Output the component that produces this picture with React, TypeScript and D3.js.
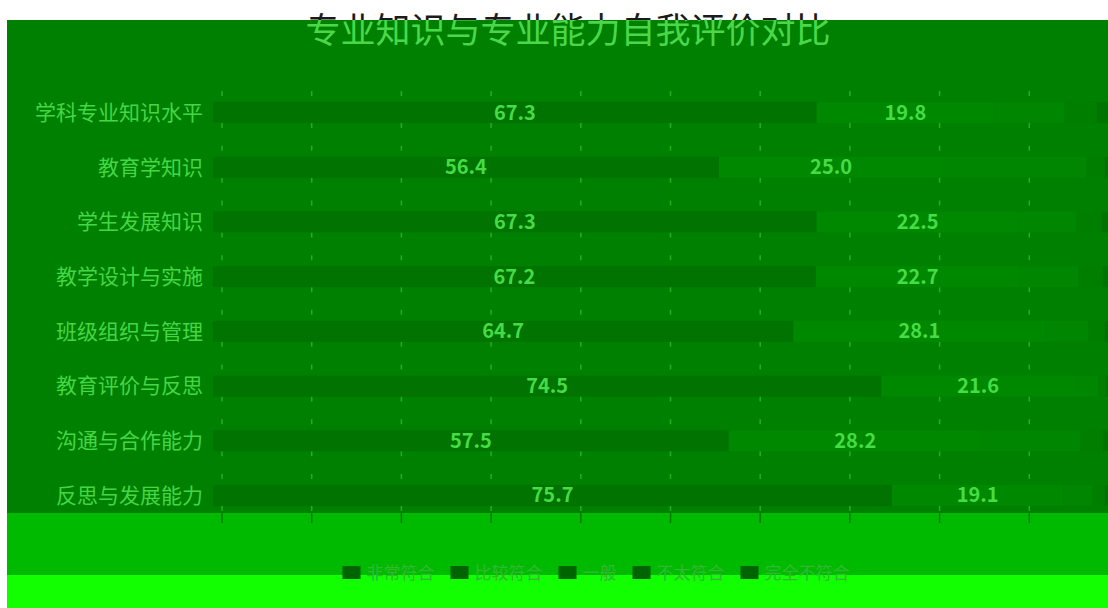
import React from "react";
import * as d3 from "d3";

const title = "专业知识与专业能力自我评价对比";
const categories = [
  "学科专业知识水平",
  "教育学知识",
  "学生发展知识",
  "教学设计与实施",
  "班级组织与管理",
  "教育评价与反思",
  "沟通与合作能力",
  "反思与发展能力",
];
const seriesNames = ["非常符合", "比较符合", "一般", "不太符合", "完全不符合"];
const s1 = [67.3, 56.4, 67.3, 67.2, 64.7, 74.5, 57.5, 75.7];
const s2 = [19.8, 25.0, 22.5, 22.7, 28.1, 21.6, 28.2, 19.1];
const s3 = [7.8, 16.0, 6.5, 6.6, 4.8, 2.6, 11.0, 3.3];
const s4 = [3.6, 2.0, 2.8, 2.7, 1.8, 0.9, 2.5, 1.3];
const s5 = [1.5, 0.6, 0.9, 0.8, 0.6, 0.4, 0.8, 0.6];
const xTicks = [0, 10, 20, 30, 40, 50, 60, 70, 80, 90, 100];
const seriesColors = ["#007300", "#008800", "#008600", "#007e00", "#007400"];

const W = 1108;
const H = 608;
const FONT = "'Noto Sans CJK SC', 'Noto Sans', sans-serif";

export default function App() {
  const seriesValues = [s1, s2, s3, s4, s5];
  const rows = categories.map((c, i) => {
    const o: any = { cat: c };
    seriesNames.forEach((k, j) => (o[k] = seriesValues[j][i]));
    return o;
  });
  const stacked = d3.stack().keys(seriesNames)(rows);

  const x = d3.scaleLinear().domain([0, 100]).range([213, 1110]);
  const y = d3
    .scaleBand()
    .domain(categories)
    .range([85.6, 522.4])
    .paddingInner(0.616)
    .paddingOuter(0.3);
  const bw = y.bandwidth();

  const plotTop = 20;
  const plotBottom = 513;
  const axisShift = 9;

  // legend layout
  const legFont = 17;
  const sw = 18;
  const legItems = seriesNames.map((n) => ({ n, w: sw + 6 + n.length * legFont }));
  const legTotal = d3.sum(legItems, (d) => d.w) + (legItems.length - 1) * 16;
  let cx = 596 - legTotal / 2;
  const legPos = legItems.map((d) => {
    const p = cx;
    cx += d.w + 16;
    return p;
  });

  return (
    <svg
      width={W}
      height={H}
      style={{ position: "absolute", left: 0, top: 0, display: "block" }}
      fontFamily={FONT}
    >
      <defs>
        <clipPath id="clipTop">
          <rect x={0} y={0} width={W} height={plotTop} />
        </clipPath>
        <clipPath id="clipBottom">
          <rect x={0} y={plotTop} width={W} height={H} />
        </clipPath>
      </defs>
      <rect x={0} y={0} width={W} height={H} fill="#ffffff" />
      <rect x={7} y={plotTop} width={W - 7} height={plotBottom - plotTop} fill="#008000" />
      <rect x={7} y={plotBottom} width={W - 7} height={575 - plotBottom} fill="#00ba00" />
      <rect x={7} y={575} width={W - 7} height={H - 575} fill="#11ff00" />

      {/* title */}
      <g clipPath="url(#clipTop)">
        <text x={568} y={43} textAnchor="middle" fontSize={35} fill="#1b1b1b">
          {title}
        </text>
      </g>
      <g clipPath="url(#clipBottom)">
        <text x={568} y={43} textAnchor="middle" fontSize={35} fill="#4ad84a">
          {title}
        </text>
      </g>

      {/* grid marks */}
      {xTicks.map((t) => (
        <line
          key={"g" + t}
          x1={x(t) + axisShift}
          x2={x(t) + axisShift}
          y1={(y(categories[0]) as number) - 18}
          y2={plotBottom}
          stroke="#3fd63f"
          strokeOpacity={0.55}
          strokeWidth={1.5}
          strokeDasharray={`5 ${bw + 6} 5 ${y.step() - bw - 16}`}
          strokeDashoffset={-7}
        />
      ))}

      {/* bars */}
      {stacked.map((layer, j) => (
        <g key={layer.key} fill={seriesColors[j]}>
          {layer.map((d, i) => (
            <rect
              key={i}
              x={x(d[0])}
              y={y(categories[i])}
              width={Math.max(0, x(d[1]) - x(d[0]))}
              height={bw}
            />
          ))}
        </g>
      ))}

      {/* value labels for first two series */}
      {stacked.slice(0, 2).map((layer) =>
        layer.map((d, i) => (
          <text
            key={layer.key + i}
            x={(x(d[0]) + x(d[1])) / 2}
            y={(y(categories[i]) as number) + bw / 2}
            dy="0.35em"
            textAnchor="middle"
            fontSize={20}
            fontWeight="bold"
            fill="#45dc45"
          >
            {(d[1] - d[0]).toFixed(1)}
          </text>
        ))
      )}

      {/* category labels */}
      {categories.map((c) => (
        <text
          key={c}
          x={203}
          y={(y(c) as number) + bw / 2}
          dy="0.35em"
          textAnchor="end"
          fontSize={21}
          fill="#45d645"
        >
          {c}
        </text>
      ))}

      {/* x axis ticks */}
      {xTicks.map((t) => (
        <line
          key={"t" + t}
          x1={x(t) + axisShift}
          x2={x(t) + axisShift}
          y1={plotBottom}
          y2={plotBottom + 10}
          stroke="#007a00"
          strokeWidth={1.5}
        />
      ))}

      {/* legend */}
      {legItems.map((d, i) => (
        <g key={d.n} transform={`translate(${legPos[i]},573)`}>
          <rect x={0} y={-7} width={sw} height={13} fill="#006400" />
          <text x={sw + 6} y={0} dy="0.35em" fontSize={legFont} fill="#33b833">
            {d.n}
          </text>
        </g>
      ))}
    </svg>
  );
}
